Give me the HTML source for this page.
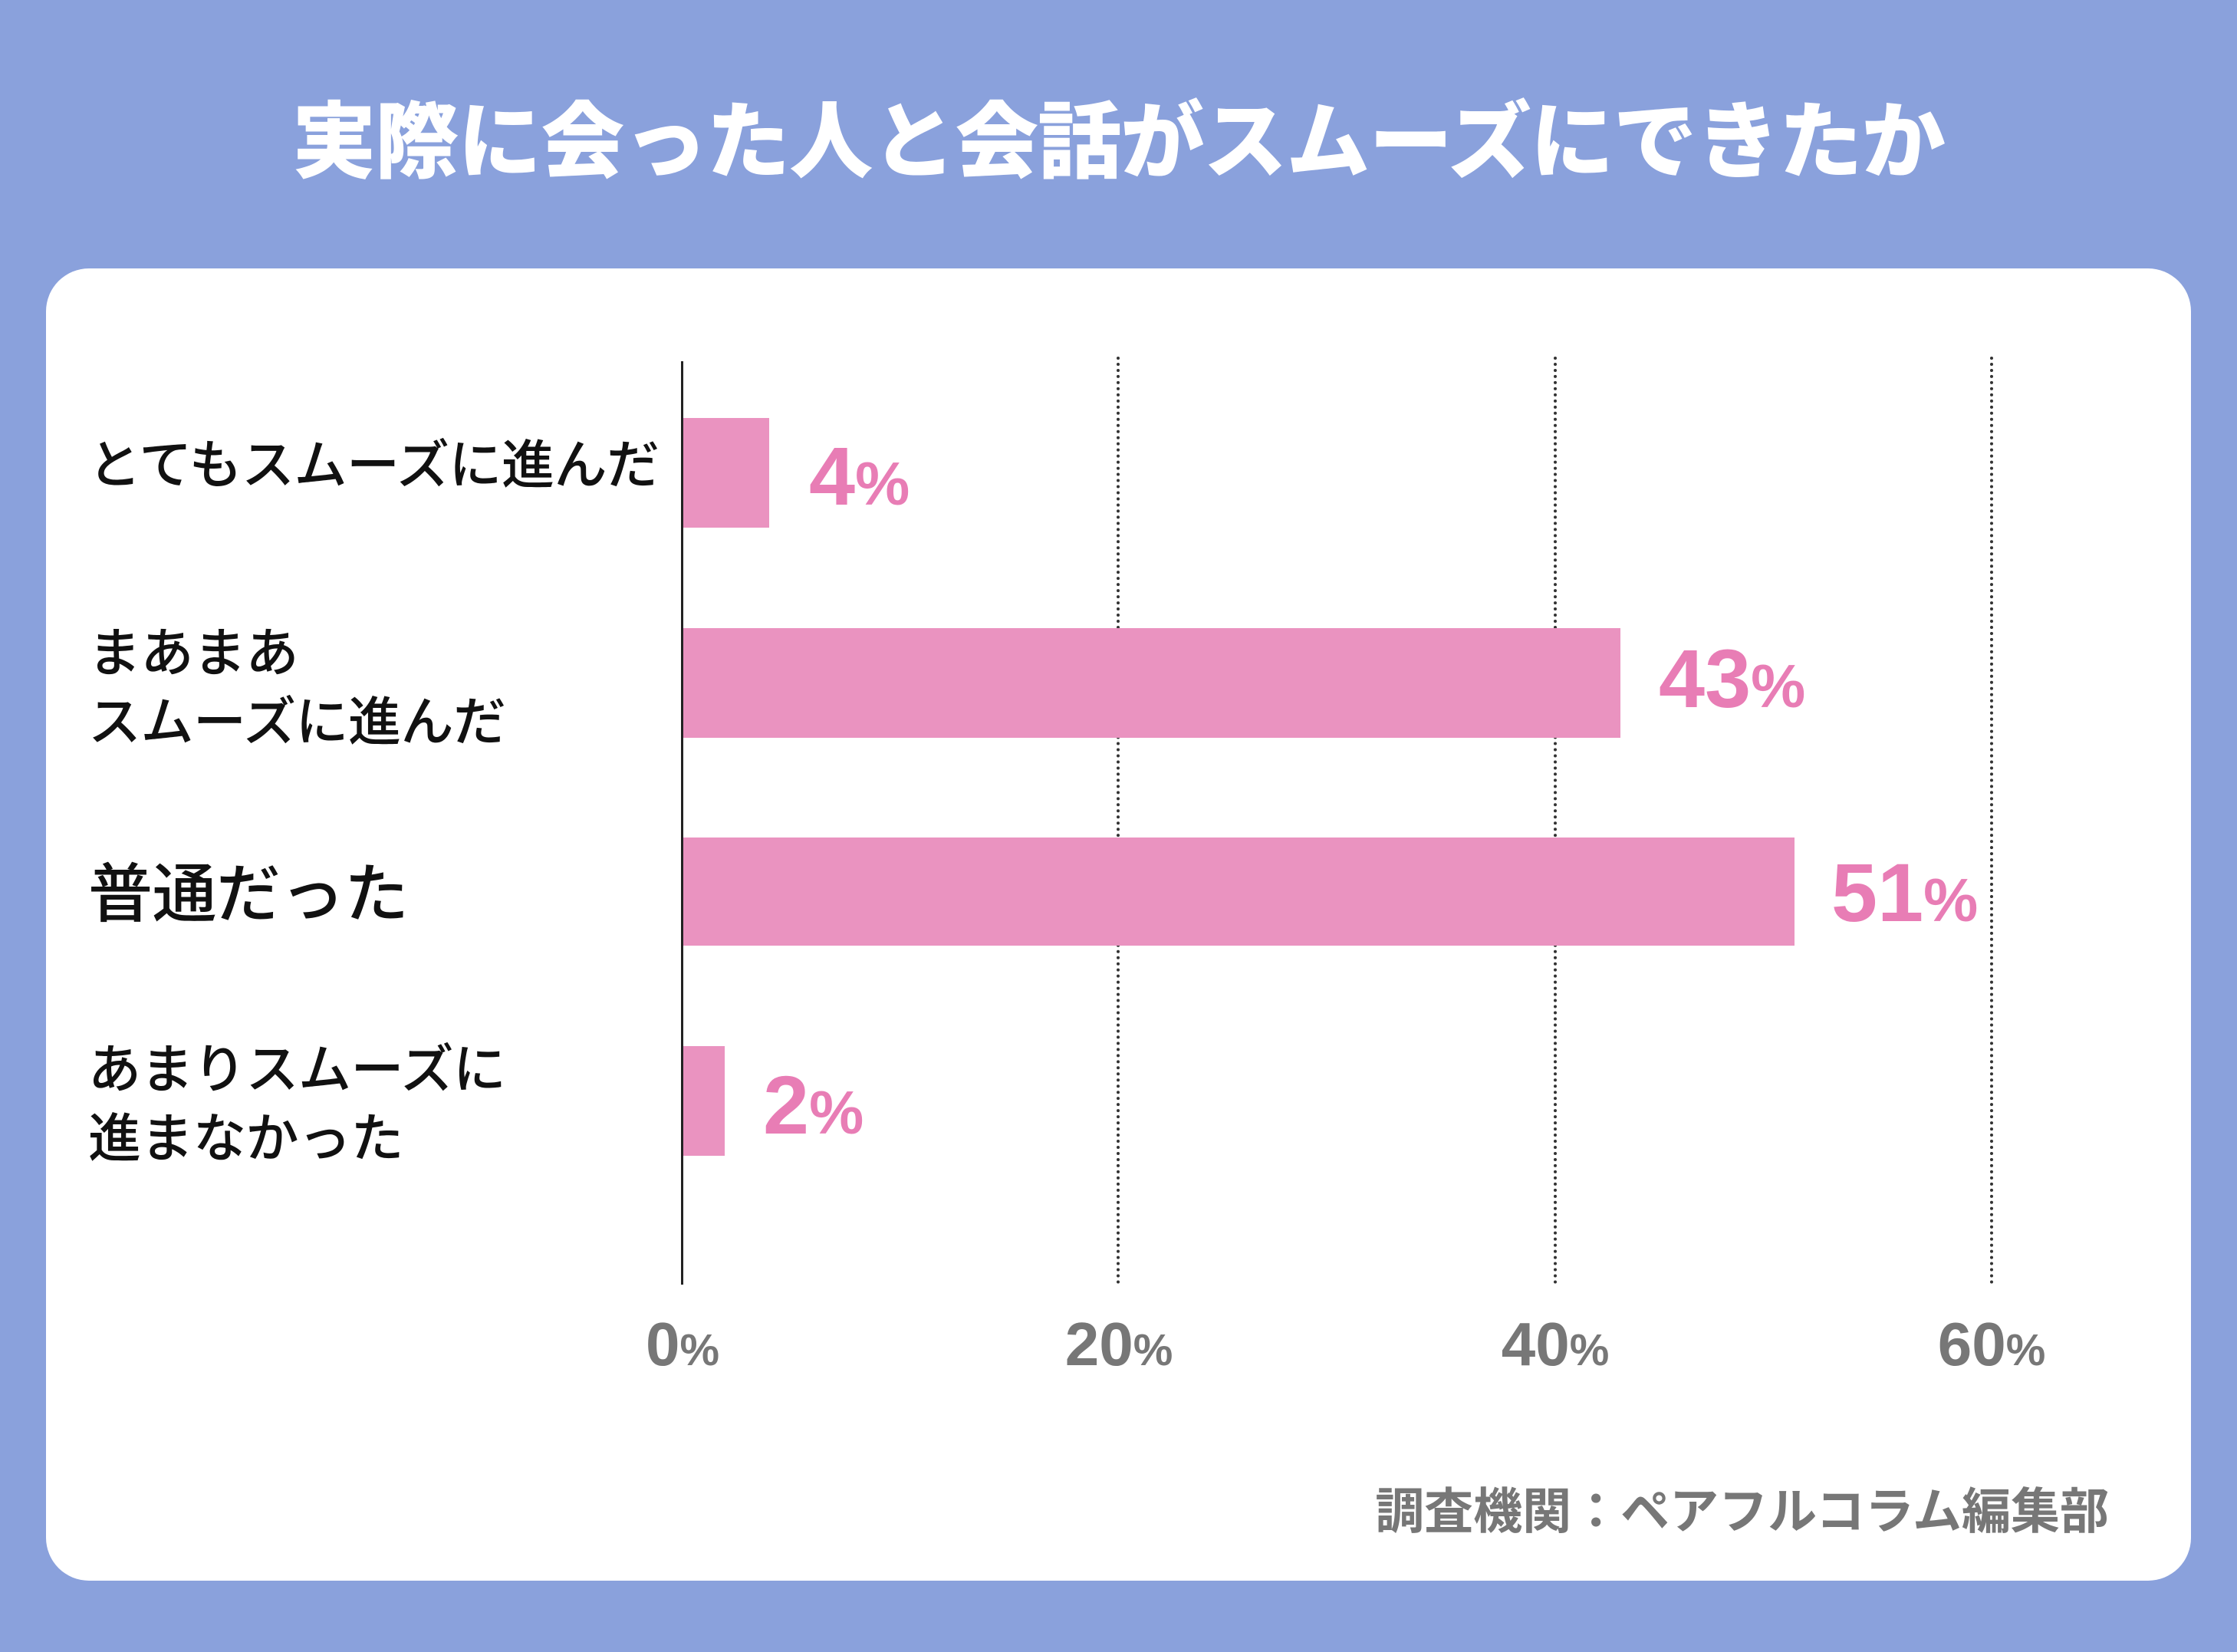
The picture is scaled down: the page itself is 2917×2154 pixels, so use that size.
<!DOCTYPE html>
<html><head><meta charset="utf-8"><style>
*{margin:0;padding:0;box-sizing:border-box}
body{width:2917px;height:2154px;background:#8AA1DC;position:relative;overflow:hidden;font-family:"Liberation Sans","Noto Sans CJK JP",sans-serif}
.title{position:absolute;left:0;width:2917px;top:112px;text-align:center;color:#fff;font-size:109px;font-weight:900;line-height:130px;font-family:"Noto Sans CJK JP",sans-serif;letter-spacing:-1px}
.card{position:absolute;left:60px;top:350px;width:2797px;height:1711px;background:#fff;border-radius:56px}
.ax{position:absolute;left:888px;top:471px;width:3px;height:1204px;background:#222}
.grid{position:absolute;top:465px;height:1210px;border-left:4px dotted #333}
.bar{position:absolute;left:890px;background:#EA93C0}
.val{position:absolute;color:#E87DB5;font-weight:bold;font-size:108px;line-height:108px}
.val small{font-size:80px}
.tick{position:absolute;top:1708px;color:#777;font-weight:bold;font-size:80px;line-height:90px;width:300px;text-align:center}
.tick small{font-size:58px}
.cat{position:absolute;left:115px;color:#111;font-size:69px;line-height:90px;font-family:"Noto Sans CJK JP",sans-serif;font-weight:500;letter-spacing:-0.5px}
.foot{position:absolute;right:167px;top:1920px;color:#777;font-size:64px;font-weight:bold;font-family:"Noto Sans CJK JP",sans-serif}
</style></head><body>
<div class="title">実際に会った人と会話がスムーズにできたか</div>
<div class="card"></div>
<div class="grid" style="left:1456px"></div>
<div class="grid" style="left:2026px"></div>
<div class="grid" style="left:2595px"></div>
<div class="bar" style="top:545px;height:143px;width:113px"></div>
<div class="bar" style="top:819px;height:143px;width:1223px"></div>
<div class="bar" style="top:1092px;height:141px;width:1450px"></div>
<div class="bar" style="top:1364px;height:143px;width:55px"></div>
<div class="ax"></div>
<div class="val" style="left:1055px;top:567px">4<small>%</small></div>
<div class="val" style="left:2163px;top:831px">43<small>%</small></div>
<div class="val" style="left:2388px;top:1110px">51<small>%</small></div>
<div class="val" style="left:995px;top:1387px">2<small>%</small></div>
<div class="tick" style="left:740px">0<small>%</small></div>
<div class="tick" style="left:1309px">20<small>%</small></div>
<div class="tick" style="left:1878px">40<small>%</small></div>
<div class="tick" style="left:2447px">60<small>%</small></div>
<div class="cat" style="top:555px">とてもスムーズに進んだ</div>
<div class="cat" style="top:800px">まあまあ<br>スムーズに進んだ</div>
<div class="cat" style="top:1115px;font-size:84px">普通だった</div>
<div class="cat" style="top:1343px">あまりスムーズに<br>進まなかった</div>
<div class="foot">調査機関：ペアフルコラム編集部</div>
</body></html>
